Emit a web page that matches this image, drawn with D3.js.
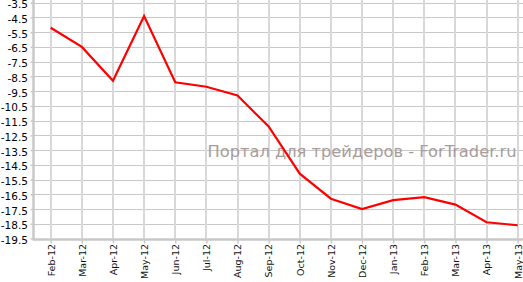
<!DOCTYPE html>
<html lang="ru">
<head>
    <meta charset="UTF-8">
    <title>Chart</title>
    <script src="https://d3js.org/d3.v7.min.js"></script>
    <style>
        body { margin: 0; background: #fff; }
        svg { display: block; }
    </style>
</head>
<body>
    <svg width="523" height="282"></svg>
    <script>
        const months = ["Feb-12", "Mar-12", "Apr-12", "May-12", "Jun-12", "Jul-12", "Aug-12", "Sep-12",
                        "Oct-12", "Nov-12", "Dec-12", "Jan-13", "Feb-13", "Mar-13", "Apr-13", "May-13"];
        const values = [-5.2, -6.5, -8.8, -4.4, -8.9, -9.2, -9.8, -11.9,
                        -15.1, -16.8, -17.5, -16.9, -16.7, -17.2, -18.4, -18.6];
        const yTicks = [-3.5, -4.5, -5.5, -6.5, -7.5, -8.5, -9.5, -10.5, -11.5,
                        -12.5, -13.5, -14.5, -15.5, -16.5, -17.5, -18.5, -19.5];
        const watermark = "Портал для трейдеров - ForTrader.ru";

        const svg = d3.select("svg");
        const plotLeft = 33.5, plotRight = 523, plotTop = 2.7, plotBottom = 238.5;

        const x = d3.scalePoint()
            .domain(months)
            .range([50.7, 517.7]);

        const y = d3.scaleLinear()
            .domain([-19.5, -3.5])
            .range([plotBottom, plotTop]);

        // horizontal grid
        svg.append("g")
            .selectAll("line")
            .data(yTicks)
            .join("line")
            .attr("x1", plotLeft)
            .attr("x2", plotRight)
            .attr("y1", d => Math.round(y(d)) + 0.5)
            .attr("y2", d => Math.round(y(d)) + 0.5)
            .attr("stroke", "#c8c8c8")
            .attr("stroke-width", 1);

        // vertical grid
        svg.append("g")
            .selectAll("line")
            .data(months)
            .join("line")
            .attr("x1", d => Math.round(x(d)))
            .attr("x2", d => Math.round(x(d)))
            .attr("y1", 0)
            .attr("y2", plotBottom)
            .attr("stroke", "#d8d8d8")
            .attr("stroke-width", 2);

        // y axis (plain hyphen for the minus sign, as in the original)
        const yAxis = svg.append("g")
            .attr("transform", `translate(${plotLeft},0)`)
            .call(d3.axisLeft(y).tickValues(yTicks).tickFormat(d => d.toFixed(1)).tickSize(3).tickPadding(2.5));
        yAxis.select(".domain").attr("stroke", "#c8c8c8").attr("stroke-width", 2.5)
            .attr("d", `M0,0V${plotBottom + 2}`);
        yAxis.selectAll(".tick line").attr("stroke", "#c8c8c8").attr("stroke-width", 1.5);
        yAxis.selectAll(".tick text")
            .attr("fill", "#000")
            .attr("dy", "0.48em")
            .style("font-family", "DejaVu Sans, Verdana, sans-serif")
            .style("font-size", "10.5px");

        // x axis
        const xAxis = svg.append("g")
            .attr("transform", `translate(0,${plotBottom + 1})`)
            .call(d3.axisBottom(x).tickSize(4).tickPadding(3));
        xAxis.select(".domain").attr("stroke", "#c8c8c8").attr("stroke-width", 2.5)
            .attr("d", `M${plotLeft},0H${plotRight}`);
        xAxis.selectAll(".tick line").attr("stroke", "#c8c8c8").attr("stroke-width", 1.5);
        xAxis.selectAll(".tick text")
            .attr("fill", "#111")
            .attr("transform", "rotate(-90)")
            .attr("text-anchor", "end")
            .attr("x", -4.5)
            .attr("y", 0)
            .attr("dy", "0.35em")
            .style("font-family", "DejaVu Sans, Verdana, sans-serif")
            .style("font-size", "9.5px");

        // watermark
        svg.append("text")
            .attr("x", 207.5)
            .attr("y", 156.5)
            .attr("fill", "#a89c9c")
            .attr("textLength", 309)
            .attr("lengthAdjust", "spacingAndGlyphs")
            .style("font-family", "DejaVu Sans, Verdana, sans-serif")
            .style("font-size", "15px")
            .text(watermark);

        // line
        svg.append("path")
            .datum(values)
            .attr("fill", "none")
            .attr("stroke", "#ff0000")
            .attr("stroke-width", 2.2)
            .attr("stroke-linejoin", "miter")
            .attr("d", d3.line()
                .x((d, i) => x(months[i]))
                .y(d => y(d)));
    </script>
</body>
</html>
